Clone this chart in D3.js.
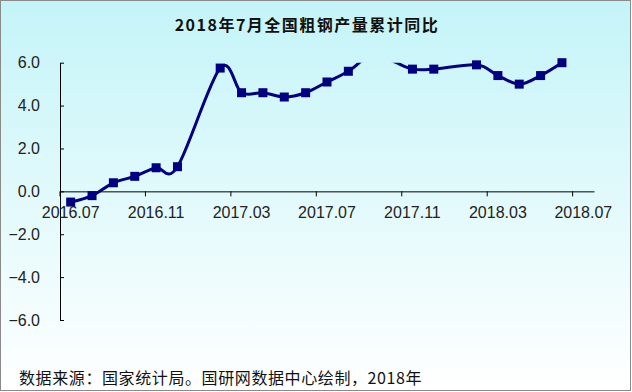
<!DOCTYPE html>
<html>
<head>
<meta charset="utf-8">
<script src="https://cdn.jsdelivr.net/npm/d3@7"></script>
<style>
  html, body { margin: 0; padding: 0; background: #fff; }
  svg { display: block; }
</style>
</head>
<body>
<div id="chart"></div>
<script>
// months on the category axis, 2016.07 .. 2018.07
const months = ["2016.07","2016.08","2016.09","2016.10","2016.11","2016.12",
  "2017.01","2017.02","2017.03","2017.04","2017.05","2017.06","2017.07","2017.08",
  "2017.09","2017.10","2017.11","2017.12","2018.01","2018.02","2018.03","2018.04",
  "2018.05","2018.06","2018.07"];
// cumulative yoy growth (%), null = no release
const growth = [-0.5, -0.2, 0.4, 0.7, 1.1, 1.15,
  null, 5.75, 4.6, 4.6, 4.4, 4.6, 5.1, 5.6,
  6.3, 6.1, 5.7, 5.7, null, 5.9, 5.4, 5.0,
  5.4, 6.0, null];
const xTickLabels = ["2016.07","2016.11","2017.03","2017.07","2017.11","2018.03","2018.07"];
const yTicks = [-6, -4, -2, 0, 2, 4, 6];

const W = 632, H = 392;
const svg = d3.select("#chart").append("svg").attr("width", W).attr("height", H);

const defs = svg.append("defs");
const grad = defs.append("linearGradient").attr("id", "bg").attr("x1", 0).attr("y1", 0).attr("x2", 0).attr("y2", 1);
grad.append("stop").attr("offset", "0%").attr("stop-color", "#c4f4f8");
grad.append("stop").attr("offset", "100%").attr("stop-color", "#ffffff");

svg.append("rect").attr("x", 0.5).attr("y", 0.5).attr("width", 630).attr("height", 390)
  .attr("fill", "url(#bg)").attr("stroke", "#8a8a8a");

const x = d3.scaleBand().domain(months).range([60, 594]).padding(0);
const y = d3.scaleLinear().domain([-6, 6]).range([320, 62.7]);

svg.append("text").attr("x", 307).attr("y", 31).attr("text-anchor", "middle")
  .style("font-family", "'Noto Sans CJK SC', sans-serif").style("font-weight", "bold")
  .style("font-size", "16px").style("letter-spacing", "1.5px").attr("fill", "#111")
  .text("2018年7月全国粗钢产量累计同比");

// y axis
const yAxis = svg.append("g").attr("transform", "translate(60,0)")
  .call(d3.axisLeft(y).tickValues(yTicks).tickFormat(d3.format(".1f"))
    .tickSize(-4).tickSizeOuter(0).tickPadding(20));
yAxis.select(".domain").attr("stroke", "#000");
yAxis.selectAll(".tick line").attr("stroke", "#000");
yAxis.selectAll("text").style("font-family", "'Liberation Sans', Arial, sans-serif")
  .style("font-size", "16px").attr("fill", "#222");

// x axis at zero
const xAxis = svg.append("g").attr("transform", `translate(0,${y(0)})`)
  .call(d3.axisBottom(x).tickValues(xTickLabels).tickSize(0).tickSizeOuter(0).tickPadding(15));
xAxis.select(".domain").attr("stroke", "#000");
xAxis.selectAll("text").style("font-family", "'Liberation Sans', Arial, sans-serif")
  .style("font-size", "16px").attr("fill", "#222");
xAxis.selectAll(".bound").data(xTickLabels).join("line").attr("class", "bound")
  .attr("x1", d => x(d)).attr("x2", d => x(d)).attr("y1", 0).attr("y2", 5)
  .attr("stroke", "#000");

// series
const pts = months.map((m, i) => ({ m, v: growth[i] })).filter(d => d.v !== null);

defs.append("clipPath").attr("id", "plot").append("rect")
  .attr("x", 60).attr("y", y(6)).attr("width", 534).attr("height", y(-6) - y(6));

const line = d3.line().x(d => x(d.m) + x.bandwidth() / 2).y(d => y(d.v))
  .curve(d3.curveCardinal.tension(0));

svg.append("path").datum(pts).attr("d", line).attr("fill", "none")
  .attr("stroke", "#000080").attr("stroke-width", 3).attr("clip-path", "url(#plot)");

svg.selectAll(".mk").data(pts.filter(d => d.v <= 6)).join("rect").attr("class", "mk")
  .attr("x", d => x(d.m) + x.bandwidth() / 2 - 4.5).attr("y", d => y(d.v) - 4.5)
  .attr("width", 9).attr("height", 9).attr("fill", "#000080");

svg.append("text").attr("x", 19).attr("y", 384)
  .style("font-family", "'Noto Sans CJK SC', sans-serif").style("font-size", "16px")
  .style("letter-spacing", "0.6px").attr("fill", "#111")
  .text("数据来源：国家统计局。国研网数据中心绘制，2018年");
</script>
</body>
</html>
